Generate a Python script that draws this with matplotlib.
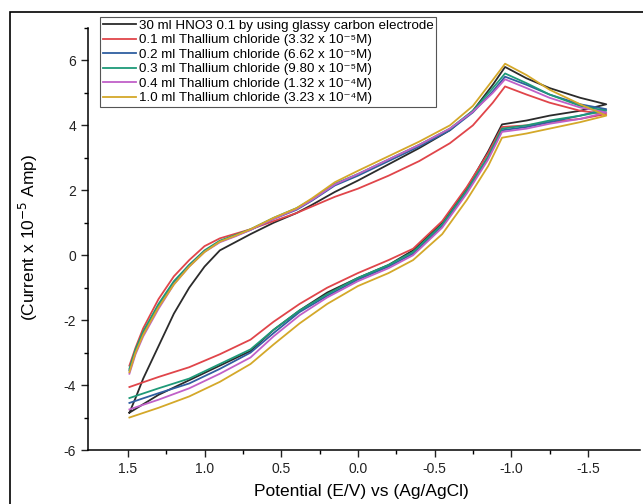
import matplotlib
matplotlib.use("Agg")
import matplotlib.pyplot as plt
from matplotlib.patches import Rectangle

plt.rcParams['font.family'] = ['Liberation Sans', 'DejaVu Sans']
plt.rcParams['axes.unicode_minus'] = False

# forward scan (1.5 V -> -1.62 V) and reverse scan (-1.62 V -> 1.5 V)
x_fwd = [1.49, 1.45, 1.40, 1.30, 1.20, 1.10, 1.00, 0.90, 0.80, 0.70, 0.55, 0.40, 0.30,
         0.15, 0.00, -0.20, -0.40, -0.60, -0.75, -0.88, -0.96, -1.10, -1.25, -1.45, -1.62]
x_rev = [-1.62, -1.45, -1.25, -1.10, -0.94, -0.85, -0.71, -0.55, -0.36, -0.20, 0.00,
         0.20, 0.38, 0.55, 0.70, 0.90, 1.10, 1.30, 1.49]

blank_fwd = [-4.85, -4.4, -3.8, -2.8, -1.8, -1.0, -0.35, 0.15, 0.4, 0.65, 1.0, 1.3, 1.55,
             1.95, 2.3, 2.8, 3.3, 3.85, 4.45, 5.25, 5.8, 5.45, 5.15, 4.85, 4.65]
blank_rev = [4.65, 4.45, 4.3, 4.15, 4.03, 3.2, 2.05, 1.0, 0.15, -0.3, -0.7, -1.15, -1.7,
             -2.3, -2.95, -3.4, -3.85, -4.3, -4.85]

tl01_fwd = [-3.4, -2.85, -2.25, -1.35, -0.65, -0.15, 0.28, 0.52, 0.66, 0.8, 1.05, 1.3, 1.5,
            1.8, 2.05, 2.45, 2.9, 3.45, 4.0, 4.7, 5.2, 4.95, 4.7, 4.45, 4.35]
tl01_rev = [4.35, 4.2, 4.1, 4.0, 3.95, 3.15, 2.1, 1.05, 0.2, -0.15, -0.55, -1.0, -1.5,
            -2.05, -2.6, -3.05, -3.45, -3.75, -4.06]

tl02_fwd = [-3.55, -2.95, -2.4, -1.55, -0.85, -0.3, 0.12, 0.42, 0.6, 0.78, 1.12, 1.4, 1.68,
            2.15, 2.45, 2.9, 3.35, 3.85, 4.4, 5.05, 5.5, 5.25, 4.95, 4.65, 4.5]
tl02_rev = [4.5, 4.3, 4.1, 3.95, 3.85, 3.0, 1.95, 0.9, 0.05, -0.35, -0.75, -1.25, -1.75,
            -2.4, -3.0, -3.5, -3.95, -4.25, -4.55]

tl03_fwd = [-3.5, -2.9, -2.35, -1.5, -0.8, -0.3, 0.15, 0.45, 0.62, 0.8, 1.15, 1.45, 1.72,
            2.2, 2.5, 2.95, 3.4, 3.9, 4.45, 5.15, 5.6, 5.3, 4.95, 4.6, 4.45]
tl03_rev = [4.45, 4.3, 4.15, 4.0, 3.9, 3.05, 2.0, 0.95, 0.1, -0.3, -0.7, -1.2, -1.7,
            -2.3, -2.9, -3.35, -3.8, -4.1, -4.4]

tl04_fwd = [-3.65, -3.05, -2.5, -1.65, -0.9, -0.35, 0.1, 0.4, 0.58, 0.78, 1.12, 1.42, 1.7,
            2.18, 2.5, 2.95, 3.4, 3.9, 4.42, 5.0, 5.42, 5.15, 4.85, 4.55, 4.4]
tl04_rev = [4.4, 4.2, 4.05, 3.9, 3.8, 2.95, 1.9, 0.85, 0.0, -0.4, -0.8, -1.3, -1.85,
            -2.5, -3.15, -3.65, -4.1, -4.45, -4.75]

tl10_fwd = [-3.6, -3.0, -2.45, -1.6, -0.9, -0.35, 0.1, 0.42, 0.6, 0.8, 1.15, 1.45, 1.75,
            2.25, 2.6, 3.05, 3.5, 4.0, 4.6, 5.4, 5.9, 5.55, 5.1, 4.65, 4.3]
tl10_rev = [4.3, 4.1, 3.9, 3.75, 3.62, 2.75, 1.7, 0.65, -0.15, -0.55, -0.95, -1.5, -2.1,
            -2.75, -3.35, -3.9, -4.35, -4.7, -5.0]

labels = ["30 ml HNO3 0.1 by using glassy carbon electrode",
          "0.1 ml Thallium chloride (3.32 x 10\u207b\u2075M)",
          "0.2 ml Thallium chloride (6.62 x 10\u207b\u2075M)",
          "0.3 ml Thallium chloride (9.80 x 10\u207b\u2075M)",
          "0.4 ml Thallium chloride (1.32 x 10\u207b\u2074M)",
          "1.0 ml Thallium chloride (3.23 x 10\u207b\u2074M)"]
colors = ['#2b2b2b', '#e0454a', '#2f5fa0', '#1e9a78', '#c060c8', '#d4a829']
series = [(blank_fwd, blank_rev), (tl01_fwd, tl01_rev), (tl02_fwd, tl02_rev),
          (tl03_fwd, tl03_rev), (tl04_fwd, tl04_rev), (tl10_fwd, tl10_rev)]

fig = plt.figure(figsize=(6.43, 5.04), dpi=100)
ax = fig.add_axes([88/643, 54/504, 552/643, 422/504])

for (yf, yr), c, lab in zip(series, colors, labels):
    ax.plot(x_fwd + x_rev, yf + yr, color=c, lw=1.3, label=lab)

ax.set_xlim(1.76, -1.84)
ax.set_ylim(-6, 7)
ax.set_xticks([1.5, 1.0, 0.5, 0.0, -0.5, -1.0, -1.5])
ax.set_xticklabels(['1.5', '1.0', '0.5', '0.0', '-0.5', '-1.0', '-1.5'])
ax.set_xticks([1.25, 0.75, 0.25, -0.25, -0.75, -1.25], minor=True)
ax.set_yticks([-6, -4, -2, 0, 2, 4, 6])
ax.set_yticks([-5, -3, -1, 1, 3, 5, 7], minor=True)
ax.tick_params(which='major', direction='out', length=5, width=1, labelsize=10, colors='#222222')
ax.tick_params(which='minor', direction='out', length=3, width=1)
for s in ['top', 'right']:
    ax.spines[s].set_visible(False)
for s in ['left', 'bottom']:
    ax.spines[s].set_linewidth(1.1)

fig.text(361/643, 8/504, "Potential (E/V) vs (Ag/AgCl)", ha='center', va='baseline', fontsize=12.5)
fig.text(28/643, 1 - 237/504, r"(Current x 10$^{-5}$ Amp)", ha='center', va='center',
         rotation=90, fontsize=12.5)

leg = fig.legend(loc='upper left', bbox_to_anchor=(100/643, 1 - 17/504), fontsize=9.6,
                 frameon=True, fancybox=False, edgecolor='#555555', framealpha=1,
                 handlelength=2.5, handletextpad=0.2, labelspacing=0.16,
                 borderpad=0.2, borderaxespad=0)
leg.get_frame().set_linewidth(0.8)

fig.patches.append(Rectangle((10/643, -0.1), 1.2, 1.1 - 12/504, transform=fig.transFigure,
                             fill=False, edgecolor='black', lw=1.2))

fig.savefig('out.png', dpi=100)
